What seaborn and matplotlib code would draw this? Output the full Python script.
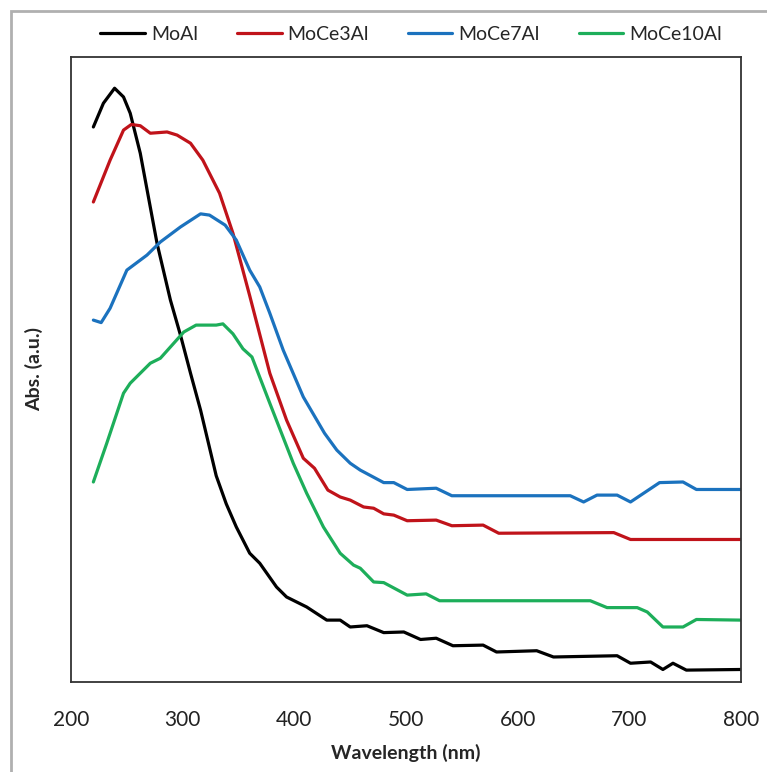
import matplotlib
matplotlib.use('Agg')
import matplotlib.pyplot as plt
import pandas as pd
import seaborn as sns
from matplotlib.patches import Rectangle

# wavelength (nm) / absorbance (a.u.)
moal_x = [220, 229, 239, 247, 253, 262, 277, 289, 298, 307, 316, 324, 330, 339, 348,
          360, 369, 384, 393, 411, 429, 441, 450, 465, 480, 498, 513, 527, 542, 569,
          581, 617, 632, 689, 701, 719, 730, 739, 751, 800]
moal_y = [0.888, 0.926, 0.950, 0.936, 0.910, 0.846, 0.702, 0.611, 0.555, 0.494, 0.435,
          0.375, 0.330, 0.285, 0.248, 0.206, 0.190, 0.152, 0.136, 0.120, 0.099, 0.099,
          0.088, 0.090, 0.079, 0.080, 0.068, 0.070, 0.058, 0.059, 0.048, 0.050, 0.040,
          0.042, 0.030, 0.032, 0.020, 0.030, 0.019, 0.020]

moce3_x = [220, 235, 247, 254, 262, 271, 286, 295, 307, 318, 333, 345, 360, 368, 378,
           393, 408, 418, 430, 441, 450, 462, 471, 480, 489, 501, 527, 541, 569, 583,
           686, 701, 800]
moce3_y = [0.768, 0.835, 0.883, 0.892, 0.890, 0.878, 0.880, 0.875, 0.862, 0.835, 0.782,
           0.718, 0.618, 0.563, 0.494, 0.419, 0.358, 0.342, 0.307, 0.296, 0.291, 0.280,
           0.278, 0.269, 0.267, 0.258, 0.259, 0.250, 0.251, 0.238, 0.239, 0.228, 0.228]

moce7_x = [220, 227, 235, 250, 268, 280, 298, 316, 324, 338, 348, 360, 369, 378, 390,
           408, 427, 438, 450, 459, 480, 489, 501, 527, 541, 647, 659, 671, 689, 701,
           727, 748, 760, 800]
moce7_y = [0.579, 0.575, 0.598, 0.659, 0.683, 0.704, 0.728, 0.749, 0.747, 0.731, 0.707,
           0.659, 0.632, 0.590, 0.531, 0.456, 0.398, 0.371, 0.350, 0.339, 0.319, 0.319,
           0.308, 0.310, 0.298, 0.298, 0.288, 0.299, 0.299, 0.288, 0.319, 0.320, 0.308,
           0.308]

moce10_x = [220, 232, 247, 253, 271, 280, 289, 301, 312, 330, 336, 345, 354, 362, 378,
            399, 411, 426, 441, 453, 459, 471, 480, 501, 518, 530, 665, 680, 707, 716,
            730, 748, 760, 800]
moce10_y = [0.320, 0.382, 0.462, 0.478, 0.510, 0.518, 0.536, 0.560, 0.571, 0.571, 0.573,
            0.557, 0.533, 0.520, 0.446, 0.350, 0.302, 0.248, 0.206, 0.187, 0.182, 0.160,
            0.159, 0.139, 0.141, 0.130, 0.130, 0.119, 0.119, 0.112, 0.088, 0.088, 0.100,
            0.099]

names = ['MoAl', 'MoCe3Al', 'MoCe7Al', 'MoCe10Al']
colors = ['#000000', '#C0131A', '#1B72BE', '#1DAE5A']

frames = []
for name, xs, ys in zip(names, [moal_x, moce3_x, moce7_x, moce10_x],
                        [moal_y, moce3_y, moce7_y, moce10_y]):
    frames.append(pd.DataFrame({'Wavelength': xs, 'Abs': ys, 'Sample': name}))
df = pd.concat(frames, ignore_index=True)

sns.set_style('white')
plt.rcParams['font.family'] = ['Lato', 'DejaVu Sans']

fig = plt.figure(figsize=(7.67, 7.72), dpi=100)
ax = fig.add_axes([0.0926, 0.1166, 0.8736, 0.8096])

sns.lineplot(data=df, x='Wavelength', y='Abs', hue='Sample', hue_order=names,
             palette=dict(zip(names, colors)), estimator=None, sort=True,
             linewidth=2.3, ax=ax)
for line in ax.get_lines():
    line.set_solid_joinstyle('round')

ax.set_xlim(200, 800)
ax.set_ylim(0, 1)
ax.set_xticks(range(200, 801, 100))
ax.set_yticks([])
ax.tick_params(axis='x', direction='in', length=6, width=1, labelsize=15, pad=20,
               colors='#222222')
ax.set_xlabel('Wavelength (nm)', fontsize=14, fontweight='bold', labelpad=10)
ax.set_ylabel('Abs. (a.u.)', fontsize=14, fontweight='bold', labelpad=20)
for sp in ax.spines.values():
    sp.set_color('#333333')
    sp.set_linewidth(1.3)

ax.legend(loc='center', bbox_to_anchor=(0.536, 0.955), bbox_transform=fig.transFigure,
          ncol=4, frameon=False, fontsize=14, handlelength=2.3, handletextpad=0.3,
          columnspacing=2.0)
for line in ax.get_legend().get_lines():
    line.set_linewidth(2.3)

# grey outer frame of the original image
fig.patches.append(Rectangle((0.0143, -0.02), 1.0, 1.0058, transform=fig.transFigure,
                             fill=False, edgecolor='#b0b0b0', linewidth=2.0))

fig.savefig('out.png', dpi=100)
